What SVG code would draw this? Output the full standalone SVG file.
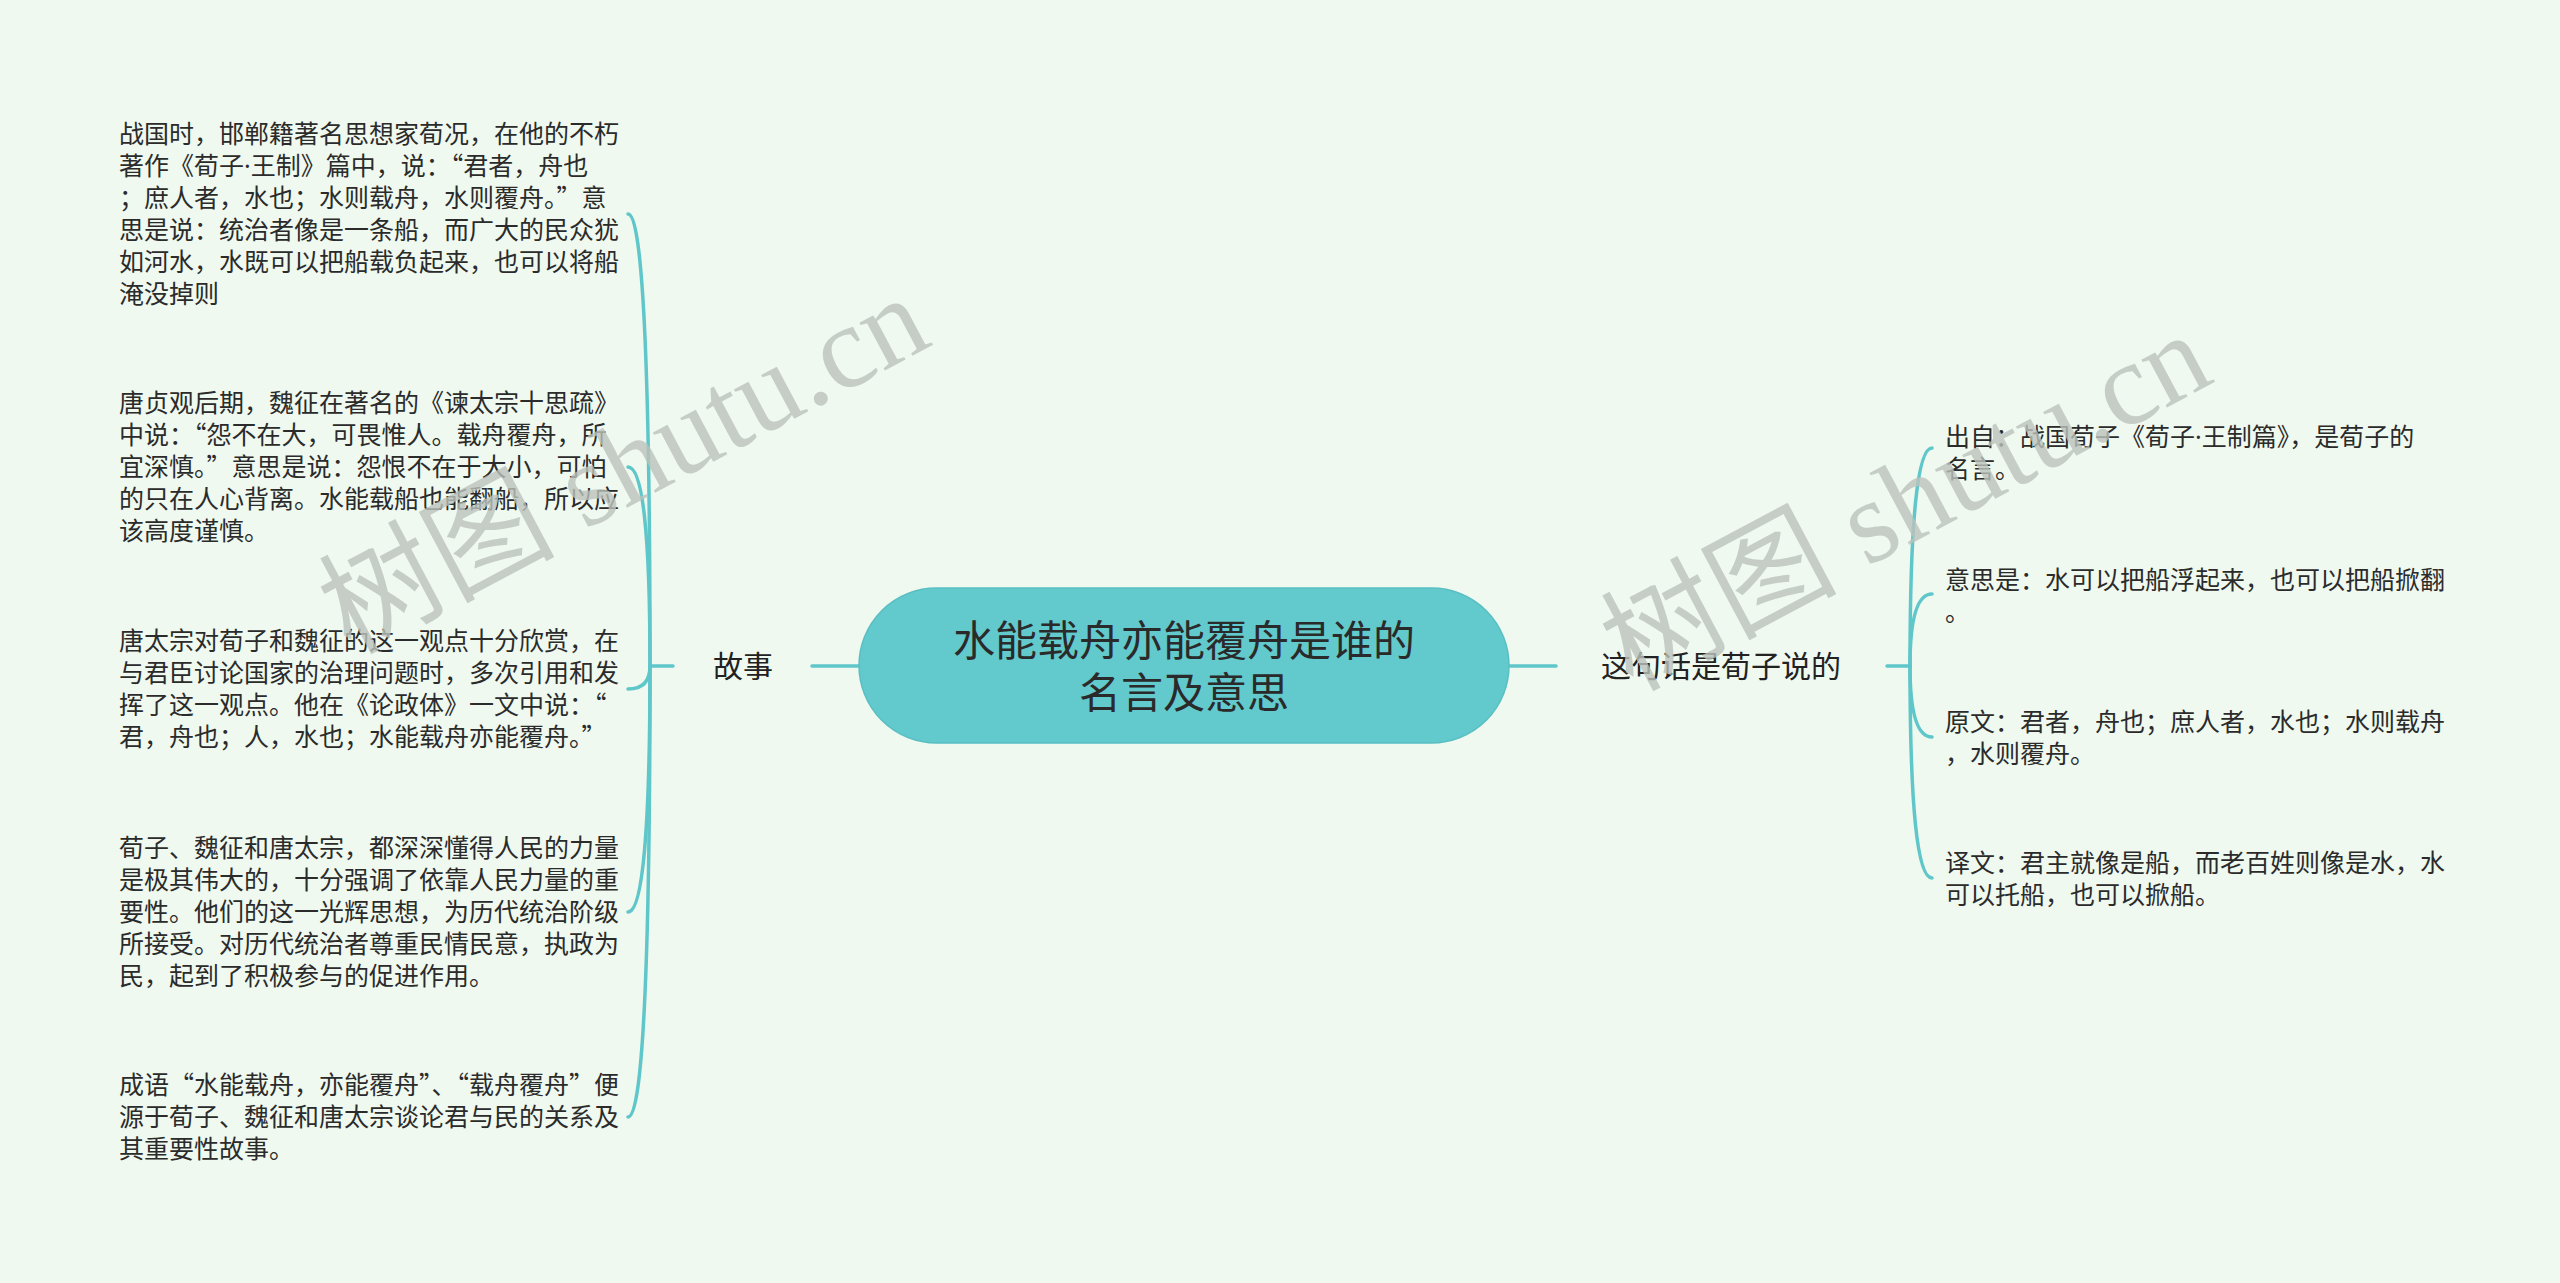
<svg xmlns="http://www.w3.org/2000/svg" width="2560" height="1283" viewBox="0 0 2560 1283">
<defs>
<style>
.bg{fill:#eff9ef}
.ln{fill:none;stroke:#5fc6ca;stroke-width:3.5;stroke-linecap:round}
.t{font-family:"Noto Sans CJK SC","Noto Sans",sans-serif;font-size:25px;fill:#2b2b2b}
.b{font-family:"Noto Sans CJK SC","Noto Sans",sans-serif;font-size:30px;fill:#222}
.c{font-family:"Noto Sans CJK SC","Noto Sans",sans-serif;font-size:42px;fill:#2a2a2a}
.dot{font-family:"Noto Sans",sans-serif}
.wm{font-family:"Liberation Serif","Noto Sans CJK SC",serif;font-size:118px;fill:#bcc3bc;opacity:0.8}
</style>
</defs>
<rect class="bg" x="0" y="0" width="2560" height="1283"/>

<g id="connectors">
<path class="ln" d="M812 666 H859"/>
<path class="ln" d="M650 666 H673"/>
<path class="ln" d="M650 666 Q650 214 628 214"/>
<path class="ln" d="M650 666 Q650 467 628 467"/>
<path class="ln" d="M650 666 Q650 689 628 689"/>
<path class="ln" d="M650 666 Q650 912 628 912"/>
<path class="ln" d="M650 666 Q650 1117 628 1117"/>
<path class="ln" d="M1509 666 H1556"/>
<path class="ln" d="M1887 666 H1910"/>
<path class="ln" d="M1910 666 Q1910 448 1932 448"/>
<path class="ln" d="M1910 666 Q1910 594 1932 594"/>
<path class="ln" d="M1910 666 Q1910 737 1932 737"/>
<path class="ln" d="M1910 666 Q1910 878 1932 878"/>
</g>

<g id="root">
<rect x="859" y="588" width="650" height="155" rx="77.5" ry="77.5" fill="#62c9cc" stroke="#5abfc3" stroke-width="1.5"/>
<text class="c" x="1184" y="656" text-anchor="middle">水能载舟亦能覆舟是谁的</text>
<text class="c" x="1184" y="708" text-anchor="middle">名言及意思</text>
</g>

<g id="branch-left">
<text class="b" x="743" y="677" text-anchor="middle">故事</text>
</g>
<g id="branch-right">
<text class="b" x="1721" y="677" text-anchor="middle">这句话是荀子说的</text>
</g>

<g id="left-1">
<text class="t" x="119" y="143">战国时，邯郸籍著名思想家荀况，在他的不朽</text>
<text class="t" x="119" y="175">著作《荀子<tspan class="dot">·</tspan>王制》篇中，说：“君者，舟也</text>
<text class="t" x="119" y="207">；庶人者，水也；水则载舟，水则覆舟。”意</text>
<text class="t" x="119" y="239">思是说：统治者像是一条船，而广大的民众犹</text>
<text class="t" x="119" y="271">如河水，水既可以把船载负起来，也可以将船</text>
<text class="t" x="119" y="303">淹没掉则</text>
</g>
<g id="left-2">
<text class="t" x="119" y="412">唐贞观后期，魏征在著名的《谏太宗十思疏》</text>
<text class="t" x="119" y="444">中说：“怨不在大，可畏惟人。载舟覆舟，所</text>
<text class="t" x="119" y="476">宜深慎。”意思是说：怨恨不在于大小，可怕</text>
<text class="t" x="119" y="508">的只在人心背离。水能载船也能翻船，所以应</text>
<text class="t" x="119" y="540">该高度谨慎。</text>
</g>
<g id="left-3">
<text class="t" x="119" y="650">唐太宗对荀子和魏征的这一观点十分欣赏，在</text>
<text class="t" x="119" y="682">与君臣讨论国家的治理问题时，多次引用和发</text>
<text class="t" x="119" y="714">挥了这一观点。他在《论政体》一文中说：“</text>
<text class="t" x="119" y="746">君，舟也；人，水也；水能载舟亦能覆舟。”</text>
</g>
<g id="left-4">
<text class="t" x="119" y="857">荀子、魏征和唐太宗，都深深懂得人民的力量</text>
<text class="t" x="119" y="889">是极其伟大的，十分强调了依靠人民力量的重</text>
<text class="t" x="119" y="921">要性。他们的这一光辉思想，为历代统治阶级</text>
<text class="t" x="119" y="953">所接受。对历代统治者尊重民情民意，执政为</text>
<text class="t" x="119" y="985">民，起到了积极参与的促进作用。</text>
</g>
<g id="left-5">
<text class="t" x="119" y="1094">成语“水能载舟，亦能覆舟”、“载舟覆舟”便</text>
<text class="t" x="119" y="1126">源于荀子、魏征和唐太宗谈论君与民的关系及</text>
<text class="t" x="119" y="1158">其重要性故事。</text>
</g>

<g id="right-1">
<text class="t" x="1945" y="446">出自：战国荀子《荀子<tspan class="dot">·</tspan>王制篇》，是荀子的</text>
<text class="t" x="1945" y="478">名言。</text>
</g>
<g id="right-2">
<text class="t" x="1945" y="589">意思是：水可以把船浮起来，也可以把船掀翻</text>
<text class="t" x="1945" y="621">。</text>
</g>
<g id="right-3">
<text class="t" x="1945" y="731">原文：君者，舟也；庶人者，水也；水则载舟</text>
<text class="t" x="1945" y="763">，水则覆舟。</text>
</g>
<g id="right-4">
<text class="t" x="1945" y="872">译文：君主就像是船，而老百姓则像是水，水</text>
<text class="t" x="1945" y="904">可以托船，也可以掀船。</text>
</g>

<g id="watermark">
<text class="wm" transform="translate(350 655) rotate(-28)">树图 shutu.cn</text>
<text class="wm" transform="translate(1632 692) rotate(-28)">树图 shutu.cn</text>
</g>
</svg>
